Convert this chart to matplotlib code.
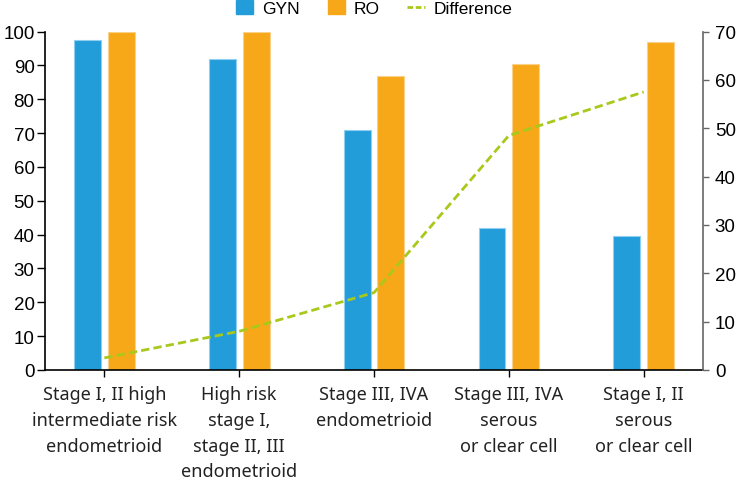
import matplotlib.pyplot as plt
import numpy as np
from matplotlib.lines import Line2D
from matplotlib.patches import Patch

# Data
categories = [
    'Stage I, II high\nintermediate risk\nendometrioid',
    'High risk\nstage I,\nstage II, III\nendometrioid',
    'Stage III, IVA\nendometrioid',
    'Stage III, IVA\nserous\nor clear cell',
    'Stage I, II\nserous\nor clear cell',
]
gyn = [97.5, 92, 71, 42, 39.5]
ro = [100, 100, 87, 90.5, 97]
difference = [2.5, 8, 16, 48.5, 57.5]

blue = '#239dda'
orange = '#f6a818'
green = '#a8c91c'

plt.rcParams['font.family'] = ['Liberation Sans', 'DejaVu Sans']

fig = plt.figure(figsize=(7.38, 4.81), dpi=100)
ax = fig.add_axes([0.061, 0.2287, 0.8916, 0.7037])
x = np.arange(len(categories))
w = 0.2
ax.bar(x - 0.125, gyn, w, color=blue, edgecolor='#8fd0f2', linewidth=0.8)
ax.bar(x + 0.125, ro, w, color=orange, edgecolor='#fbd08a', linewidth=0.8)
ax.set_xlim(-0.44, 4.44)
ax.set_ylim(0, 100)
ax.set_yticks(range(0, 101, 10))
ax.set_xticks(x)
ax.set_xticklabels(categories, family=['Noto Sans', 'DejaVu Sans'], fontsize=13,
                   color='#222222', linespacing=1.55)
ax.tick_params(axis='y', labelsize=13.5, length=5.5, width=1, pad=2)
ax.tick_params(axis='x', length=5, width=1, pad=6)
for s in ['top', 'right']:
    ax.spines[s].set_visible(False)
ax.spines['left'].set_linewidth(1.2)
ax.spines['bottom'].set_linewidth(1.2)

ax2 = ax.twinx()
ax2.plot(x, difference, color=green, linestyle='--', linewidth=2, dashes=(3, 1.5))
ax2.set_ylim(0, 70)
ax2.set_yticks(range(0, 71, 10))
ax2.tick_params(axis='y', labelsize=13.5, length=4.5, width=1, pad=4, color='#666666')
for s in ['top', 'left', 'bottom']:
    ax2.spines[s].set_visible(False)
ax2.spines['right'].set_color('#666666')
ax2.spines['right'].set_linewidth(1.2)

handles = [
    Patch(color=blue, label='GYN'),
    Patch(color=orange, label='RO'),
    Line2D([0], [0], color=green, linestyle='--', linewidth=2, dashes=(2, 1), label='Difference'),
]
fig.legend(handles=handles, loc='center', bbox_to_anchor=(0.507, 0.981), ncol=3,
           frameon=False, fontsize=12.5, handlelength=1.0, handleheight=0.9,
           handletextpad=0.5, columnspacing=1.6)

plt.savefig('out.png', dpi=100)
